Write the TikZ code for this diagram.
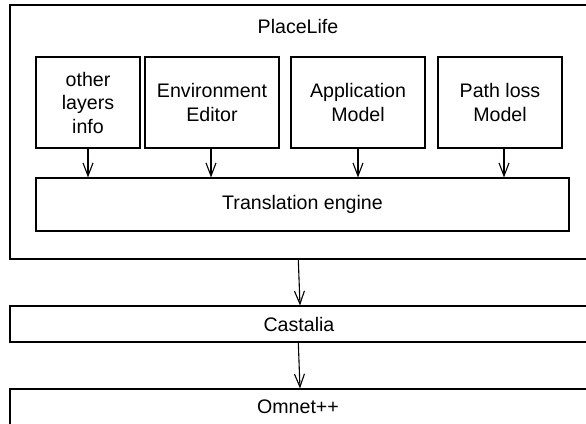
\documentclass[tikz,border=0pt]{standalone}
\usepackage{fontspec}
\setmainfont{Liberation Sans}
\usetikzlibrary{arrows.meta}
\begin{document}
\begin{tikzpicture}[x=1pt,y=-1pt,
  box/.style={draw,line width=1.1pt,inner sep=0pt,align=center,font=\fontsize{19.6}{23.5}\selectfont},
  conn/.style={line width=1.1pt,-{Straight Barb[length=13pt,width=10pt,line width=1.1pt]}}]
\useasboundingbox (0,0) rectangle (586,423);
\clip (0,0) rectangle (586,423);
% outer PlaceLife box
\node[box,minimum width=578pt,minimum height=254pt] (pl) at (299,132) {};
\node[font=\fontsize{19.6}{23.5}\selectfont,inner sep=0pt] (pltitle) at (298,26) {PlaceLife};
% components
\node[box,minimum width=104pt,minimum height=91pt] (b1) at (88,102.5) {other\\layers\\info};
\node[box,minimum width=134pt,minimum height=91pt] (b2) at (212,102.5) {Environment\\Editor};
\node[box,minimum width=134pt,minimum height=91pt] (b3) at (358,102.5) {Application\\Model};
\node[box,minimum width=124pt,minimum height=91pt] (b4) at (500,102.5) {Path loss\\Model};
\node[box,minimum width=533pt,minimum height=53pt] (te) at (302.5,204.5) {Translation engine};
% lower layers
\node[box,minimum width=578pt,minimum height=36pt] (ca) at (299,324) {Castalia};
\node[box,minimum width=578pt,minimum height=60pt] (om) at (299,419) {};
\node[font=\fontsize{19.6}{23.5}\selectfont,inner sep=0pt] (omt) at (298,407) {Omnet++};
% connectors
\draw[conn] (b1.south) -- (b1.south |- te.north);
\draw[conn] ([xshift=-1pt]b2.south) -- ([xshift=-1pt]b2.south |- te.north);
\draw[conn] (b3.south) -- (b3.south |- te.north);
\draw[conn] ([xshift=4pt]b4.south) -- ([xshift=4pt]b4.south |- te.north);
\draw[conn] ([xshift=-0.7pt]pl.south) -- ([xshift=1pt]ca.north);
\draw[conn] ([xshift=-0.7pt]ca.south) -- ([xshift=1pt]om.north);
\end{tikzpicture}
\end{document}
